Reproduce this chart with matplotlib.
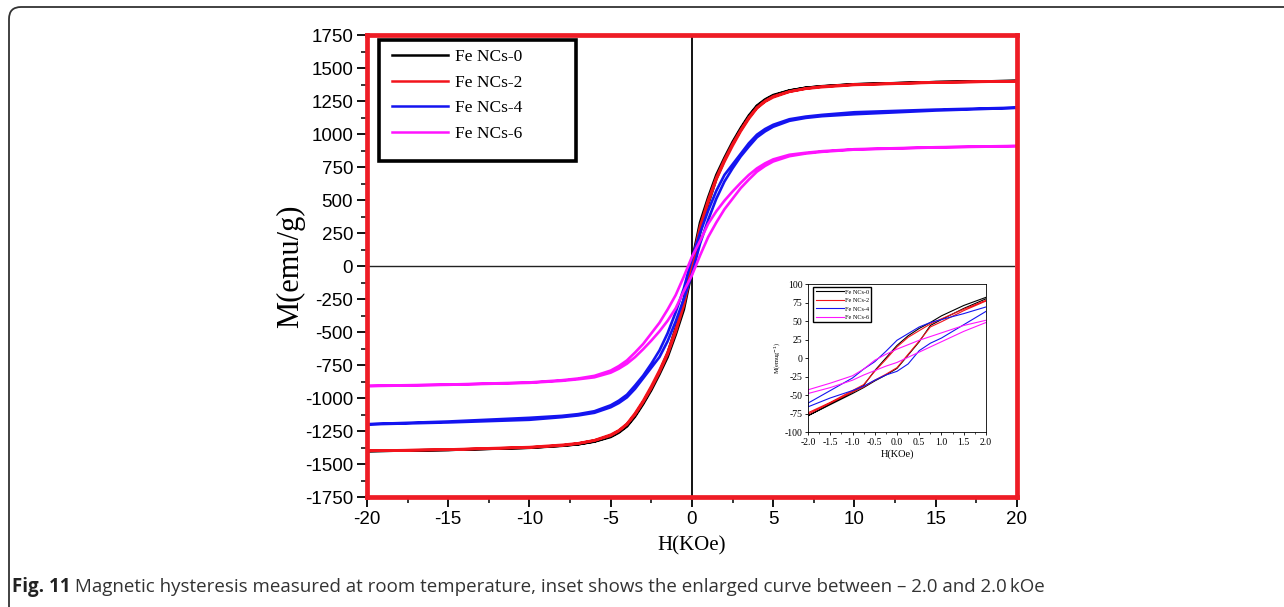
import numpy as np
import matplotlib
matplotlib.use('Agg')
import matplotlib.pyplot as plt
from matplotlib.patches import FancyBboxPatch, Rectangle
from matplotlib.transforms import IdentityTransform
from matplotlib.ticker import MultipleLocator

plt.rcParams['axes.unicode_minus'] = False

# ---- data ----
labels = ['Fe NCs-0', 'Fe NCs-2', 'Fe NCs-4', 'Fe NCs-6']
colors = ['#000000', '#f2141c', '#1414f0', '#ff14ff']

# main plot, field in kOe (both branches share the same H grid)
H_main = [-20, -15, -10, -8, -7, -6, -5, -4.5, -4, -3.5, -3, -2.5, -2, -1.5, -1, -0.5, 0,
          0.5, 1, 1.5, 2, 2.5, 3, 3.5, 4, 4.5, 5, 6, 7, 8, 10, 15, 20]

# descending (upper) branches
M0_down = [-1402, -1393, -1376, -1360, -1350, -1328, -1290, -1255, -1210, -1130, -1035, -925, -800, -660, -470, -250, 40,
           330, 520, 690, 820, 940, 1045, 1140, 1215, 1262, 1295, 1330, 1350, 1362, 1377, 1393, 1402]
M2_down = [-1400, -1390, -1372, -1355, -1343, -1320, -1278, -1245, -1195, -1115, -1020, -910, -790, -655, -480, -270, 20,
           300, 500, 670, 805, 925, 1030, 1125, 1200, 1250, 1285, 1322, 1345, 1360, 1375, 1392, 1400]
M4_down = [-1198, -1178, -1150, -1135, -1122, -1100, -1055, -1020, -975, -905, -830, -740, -640, -510, -350, -170, 60,
           250, 420, 570, 690, 770, 850, 930, 995, 1038, 1070, 1112, 1132, 1145, 1165, 1185, 1200]
M6_down = [-908, -898, -882, -865, -852, -832, -792, -758, -715, -655, -590, -510, -430, -330, -220, -80, 70,
           190, 320, 415, 495, 565, 630, 690, 740, 778, 808, 843, 858, 870, 885, 900, 910]

# ascending (lower) branches
M0_up = [-1402, -1393, -1377, -1362, -1350, -1330, -1295, -1262, -1215, -1140, -1045, -940, -820, -690, -520, -330, -40,
         250, 470, 660, 800, 925, 1035, 1130, 1210, 1255, 1290, 1328, 1350, 1360, 1376, 1393, 1402]
M2_up = [-1400, -1392, -1375, -1360, -1345, -1322, -1285, -1250, -1200, -1125, -1030, -925, -805, -670, -500, -300, -20,
         270, 480, 655, 790, 910, 1020, 1115, 1195, 1245, 1278, 1320, 1343, 1355, 1372, 1390, 1400]
M4_up = [-1200, -1185, -1165, -1145, -1132, -1112, -1070, -1038, -995, -930, -850, -770, -690, -570, -420, -250, -60,
         170, 350, 510, 640, 740, 830, 905, 975, 1020, 1055, 1100, 1122, 1135, 1150, 1178, 1198]
M6_up = [-910, -900, -885, -870, -858, -843, -808, -778, -740, -690, -630, -565, -495, -415, -320, -190, -70,
         80, 220, 330, 430, 510, 590, 655, 715, 758, 792, 832, 852, 865, 882, 898, 908]

# inset, -2..2 kOe
H_ins = [-2, -1.5, -1, -0.75, -0.5, -0.25, 0, 0.25, 0.5, 0.75, 1, 1.5, 2]
m0_down = [-78, -62, -46, -37, -17, 0, 17, 30, 40, 48, 57, 71, 82]
m2_down = [-74, -60, -44, -36, -18, -2, 15, 28, 37, 46, 53, 66, 78]
m4_down = [-61, -44, -27, -15, -5, 9, 24, 33, 42, 48, 52, 60, 69]
m6_down = [-43, -34, -24, -15, -3, 5, 12, 18, 24, 29, 34, 44, 51]
m0_up = [-78, -63, -48, -40, -31, -23, -14, 4, 22, 44, 52, 67, 80]
m2_up = [-76, -61, -46, -39, -30, -22, -13, 5, 23, 42, 49, 64, 77]
m4_up = [-66, -54, -44, -38, -30, -23, -18, -8, 10, 20, 27, 45, 63]
m6_up = [-48, -40, -30, -23, -17, -11, -6, 1, 8, 15, 22, 36, 48]

main_down = [M0_down, M2_down, M4_down, M6_down]
main_up = [M0_up, M2_up, M4_up, M6_up]
ins_down = [m0_down, m2_down, m4_down, m6_down]
ins_up = [m0_up, m2_up, m4_up, m6_up]

caption_bold = 'Fig. 11'
caption_text = ' Magnetic hysteresis measured at room temperature, inset shows the enlarged curve between \u2013 2.0 and 2.0\u2009kOe'

serif = ['Liberation Serif', 'DejaVu Serif']
sans = ['Liberation Sans', 'DejaVu Sans']


def loop(h, down, up):
    # full loop: come down from +H along upper branch, go back up along lower one
    h = np.asarray(h, float)
    x = np.concatenate([h[::-1], h])
    y = np.concatenate([np.asarray(down, float)[::-1], np.asarray(up, float)])
    return x, y


fig = plt.figure(figsize=(12.84, 6.07), dpi=100)

# outer rounded frame of the figure panel (runs off right/bottom edge)
frame = FancyBboxPatch((9, -40), 1400, 640, boxstyle='round,pad=0,rounding_size=12',
                       transform=IdentityTransform(), fill=False, edgecolor='#333333', lw=1.3)
fig.add_artist(frame)

# ---- main axes ----
ax = fig.add_axes([0.2858, 0.1812, 0.5062, 0.7611])
for h_d, h_u, c, lab in zip(main_down, main_up, colors, labels):
    x, y = loop(H_main, h_d, h_u)
    ax.plot(x, y, color=c, lw=1.9, label=lab)

ax.axvline(0, color='black', lw=1.3, zorder=1)
ax.plot([-20, 19.8], [0, 0], color='#222222', lw=1.0, zorder=1)

ax.set_xlim(-20, 20)
ax.set_ylim(-1750, 1750)
ax.xaxis.set_major_locator(MultipleLocator(5))
ax.xaxis.set_minor_locator(MultipleLocator(2.5))
ax.yaxis.set_major_locator(MultipleLocator(250))
ax.yaxis.set_minor_locator(MultipleLocator(125))
ax.tick_params(which='major', direction='out', length=7, width=1.3, labelsize=13.5, pad=3)
ax.tick_params(which='minor', direction='out', length=4, width=1.1)
for lab in ax.get_xticklabels() + ax.get_yticklabels():
    lab.set_family(sans)
for s in ax.spines.values():
    s.set_color('#ee1c25')
    s.set_linewidth(3.4)

ax.set_xlabel('H(KOe)', family=serif, fontsize=15, labelpad=6)
ax.set_ylabel('M(emu/g)', family=serif, fontsize=22, labelpad=0)

leg = ax.legend(loc='upper left', bbox_to_anchor=(0.028, 0.985), frameon=False,
                prop={'family': serif, 'size': 12.5}, handlelength=3.2,
                handletextpad=0.4, labelspacing=0.55, borderaxespad=0)
for ln in leg.get_lines():
    ln.set_linewidth(1.8)
ax.add_patch(Rectangle((0.0185, 0.728), 0.303, 0.261, transform=ax.transAxes,
                       fill=False, edgecolor='black', lw=2.6, zorder=5))

# ---- inset ----
axi = fig.add_axes([0.6293, 0.2883, 0.1386, 0.2438])
for h_d, h_u, c, lab in zip(ins_down, ins_up, colors, labels):
    x, y = loop(H_ins, h_d, h_u)
    axi.plot(x, y, color=c, lw=0.8, label=lab)
axi.set_xlim(-2, 2)
axi.set_ylim(-100, 100)
axi.xaxis.set_minor_locator(MultipleLocator(0.25))
axi.yaxis.set_major_locator(MultipleLocator(25))
axi.set_xticks(np.arange(-2, 2.01, 0.5))
axi.set_xticklabels(['-2.0', '-1.5', '-1.0', '-0.5', '0.0', '0.5', '1.0', '1.5', '2.0'])
axi.tick_params(which='major', direction='out', length=2.5, width=0.6, labelsize=7, pad=1.5)
axi.tick_params(which='minor', direction='out', length=1.5, width=0.5)
for lab in axi.get_xticklabels() + axi.get_yticklabels():
    lab.set_family(serif)
for s in axi.spines.values():
    s.set_linewidth(0.6)
axi.set_xlabel('H(KOe)', family=serif, fontsize=7.5, labelpad=2)
axi.set_ylabel('M(emug$^{-1}$)', family=serif, fontsize=4.5, labelpad=2)
li = axi.legend(loc='upper left', bbox_to_anchor=(0.03, 0.98), borderaxespad=0,
                prop={'family': serif, 'size': 4.5}, handlelength=4.5, handletextpad=0.2,
                labelspacing=0.5, borderpad=0.35, fancybox=False, framealpha=1)
li.get_frame().set_edgecolor('black')
li.get_frame().set_linewidth(1.0)

# ---- caption ----
cap_font = ['Open Sans', 'DejaVu Sans']
tb = fig.text(12 / 1284, 1 - 587 / 607, caption_bold, family=cap_font, weight='bold',
              fontsize=13.5, va='center', ha='left', color='#222222')
fig.canvas.draw()
bb = tb.get_window_extent(fig.canvas.get_renderer())
fig.text(bb.x1 / fig.bbox.width, 1 - 587 / 607, caption_text, family=cap_font,
         fontsize=13.5, va='center', ha='left', color='#333333')

fig.savefig('out.png', dpi=100)
